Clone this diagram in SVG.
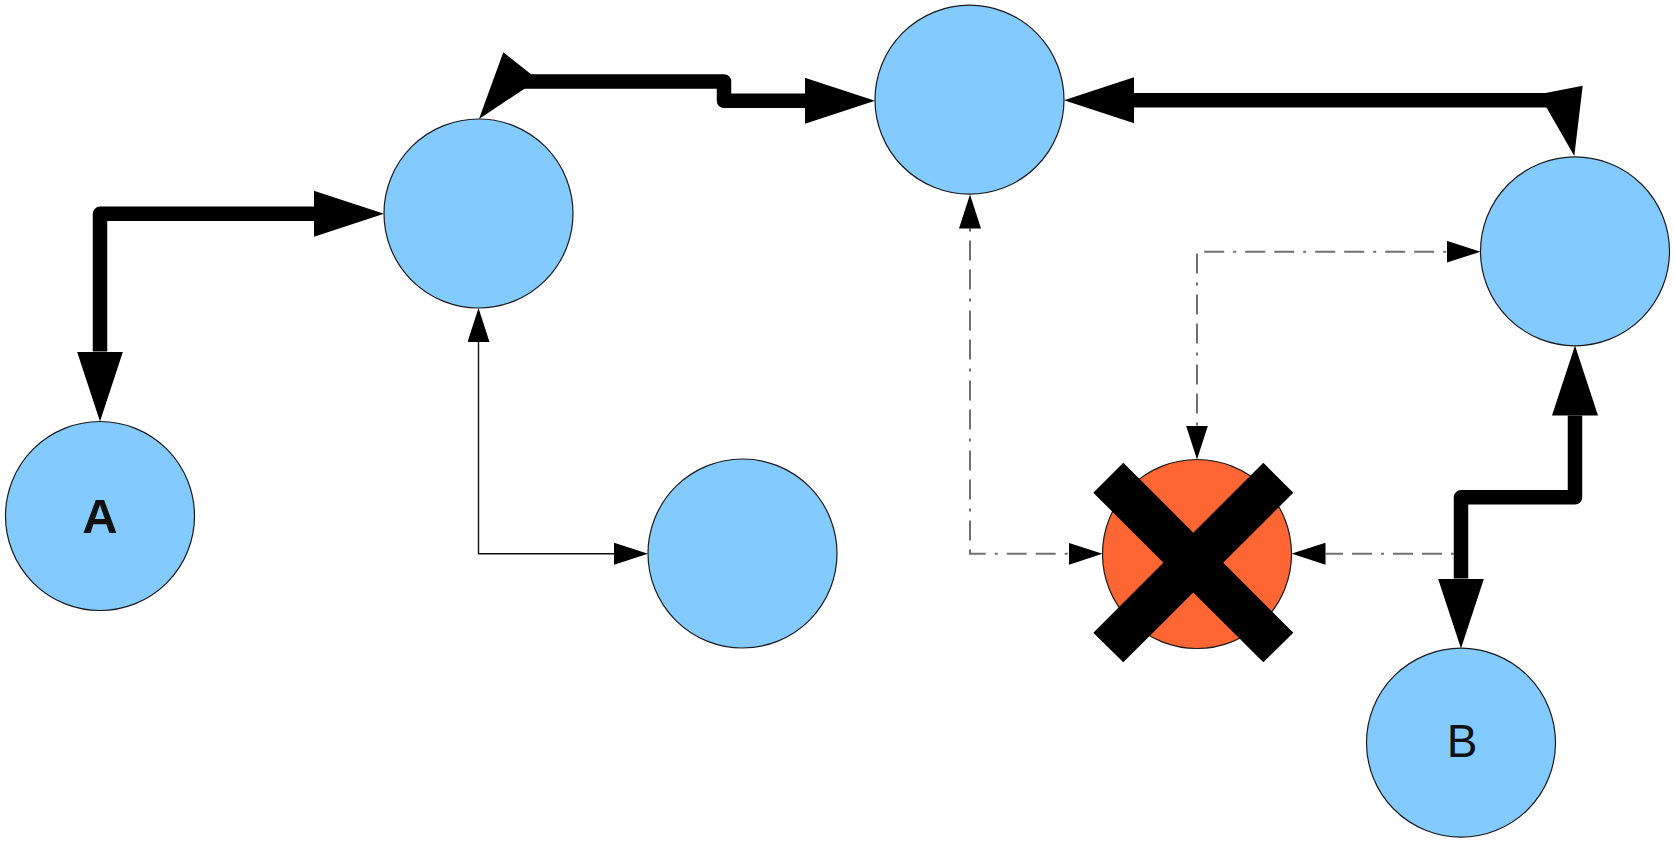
<svg xmlns="http://www.w3.org/2000/svg" width="1675" height="842" viewBox="0 0 1675 842">
  <style>
    .node { fill: #83caff; stroke: #1a1a1a; stroke-width: 1.2; }
    .stop { fill: #ff6633; stroke: #1a1a1a; stroke-width: 1.2; }
    .thick { fill: none; stroke: #000; stroke-width: 14.5; stroke-linejoin: round; }
    .thin { fill: none; stroke: #111; stroke-width: 1.4; }
    .dash { fill: none; stroke: #707070; stroke-width: 2; stroke-dasharray: 3 9 20 9 20 9; }
    .head { fill: #000; }
    .lbl { font-family: "Liberation Sans", Arial, sans-serif; fill: #111; text-anchor: middle; }
  </style>
  <defs>
    <marker id="big" markerUnits="userSpaceOnUse" viewBox="0 0 70 46" markerWidth="70" markerHeight="46" refX="0" refY="23" orient="auto-start-reverse">
      <path d="M0,0 L70,23 L0,46 z" fill="#000"/>
    </marker>
    <marker id="small" markerUnits="userSpaceOnUse" viewBox="0 0 34 22" markerWidth="34" markerHeight="22" refX="0" refY="11" orient="auto-start-reverse">
      <path d="M0,0 L34,11 L0,22 z" fill="#000"/>
    </marker>
  </defs>

  <g id="connectors">
    <path id="c-a-n2" class="thick" d="M100,351.5 V213.8 H314" marker-start="url(#big)" marker-end="url(#big)"/>
    <g id="c-n2-n3">
      <path class="thick" d="M518,81.5 H724 V100.8 H805" marker-end="url(#big)"/>
      <polygon class="head" points="479,119 503.3,52.3 538,79.7"/>
    </g>
    <g id="c-n4-n3">
      <path class="thick" d="M1552,100.2 H1134" marker-end="url(#big)"/>
      <polygon class="head" points="1574.3,156 1582.7,85.7 1538.9,94.2"/>
    </g>
    <path id="c-n2-n5" class="thin" d="M478.5,342 V553.7 H614" marker-start="url(#small)" marker-end="url(#small)"/>
    <path id="c-n3-x" class="dash" d="M970,228.5 V553.8 H1068.5" marker-start="url(#small)" marker-end="url(#small)"/>
    <path id="c-x-n4" class="dash" d="M1197,425.5 V251.7 H1446.5" marker-start="url(#small)" marker-end="url(#small)"/>
    <path id="c-n4-b" class="thick" d="M1575,415.5 V497.3 H1461 V578.5" marker-start="url(#big)" marker-end="url(#big)"/>
    <path id="c-line-x" class="dash" d="M1454,553.7 H1325.5" marker-end="url(#small)"/>
  </g>

  <g id="node-a">
    <circle class="node" cx="100" cy="516" r="94.5"/>
    <text class="lbl" x="100" y="532.5" font-size="49" font-weight="bold">A</text>
  </g>
  <g id="node-2">
    <circle class="node" cx="478.5" cy="213.5" r="94.5"/>
  </g>
  <g id="node-3">
    <circle class="node" cx="969.5" cy="99.7" r="94.5"/>
  </g>
  <g id="node-4">
    <circle class="node" cx="1575" cy="251.3" r="94.5"/>
  </g>
  <g id="node-5">
    <circle class="node" cx="742.5" cy="553.5" r="94.5"/>
  </g>
  <g id="node-x">
    <circle class="stop" cx="1197" cy="554" r="94.5"/>
    <polygon class="head" points="1093.3,492.7 1123.3,462.7 1293.3,632.7 1263.3,662.3"/>
    <polygon class="head" points="1263.3,462.7 1293.3,492.7 1123.3,662.3 1093.3,632.7"/>
  </g>
  <g id="node-b">
    <circle class="node" cx="1461" cy="742.7" r="94.5"/>
    <text class="lbl" x="1462" y="756.7" font-size="46">B</text>
  </g>
</svg>
